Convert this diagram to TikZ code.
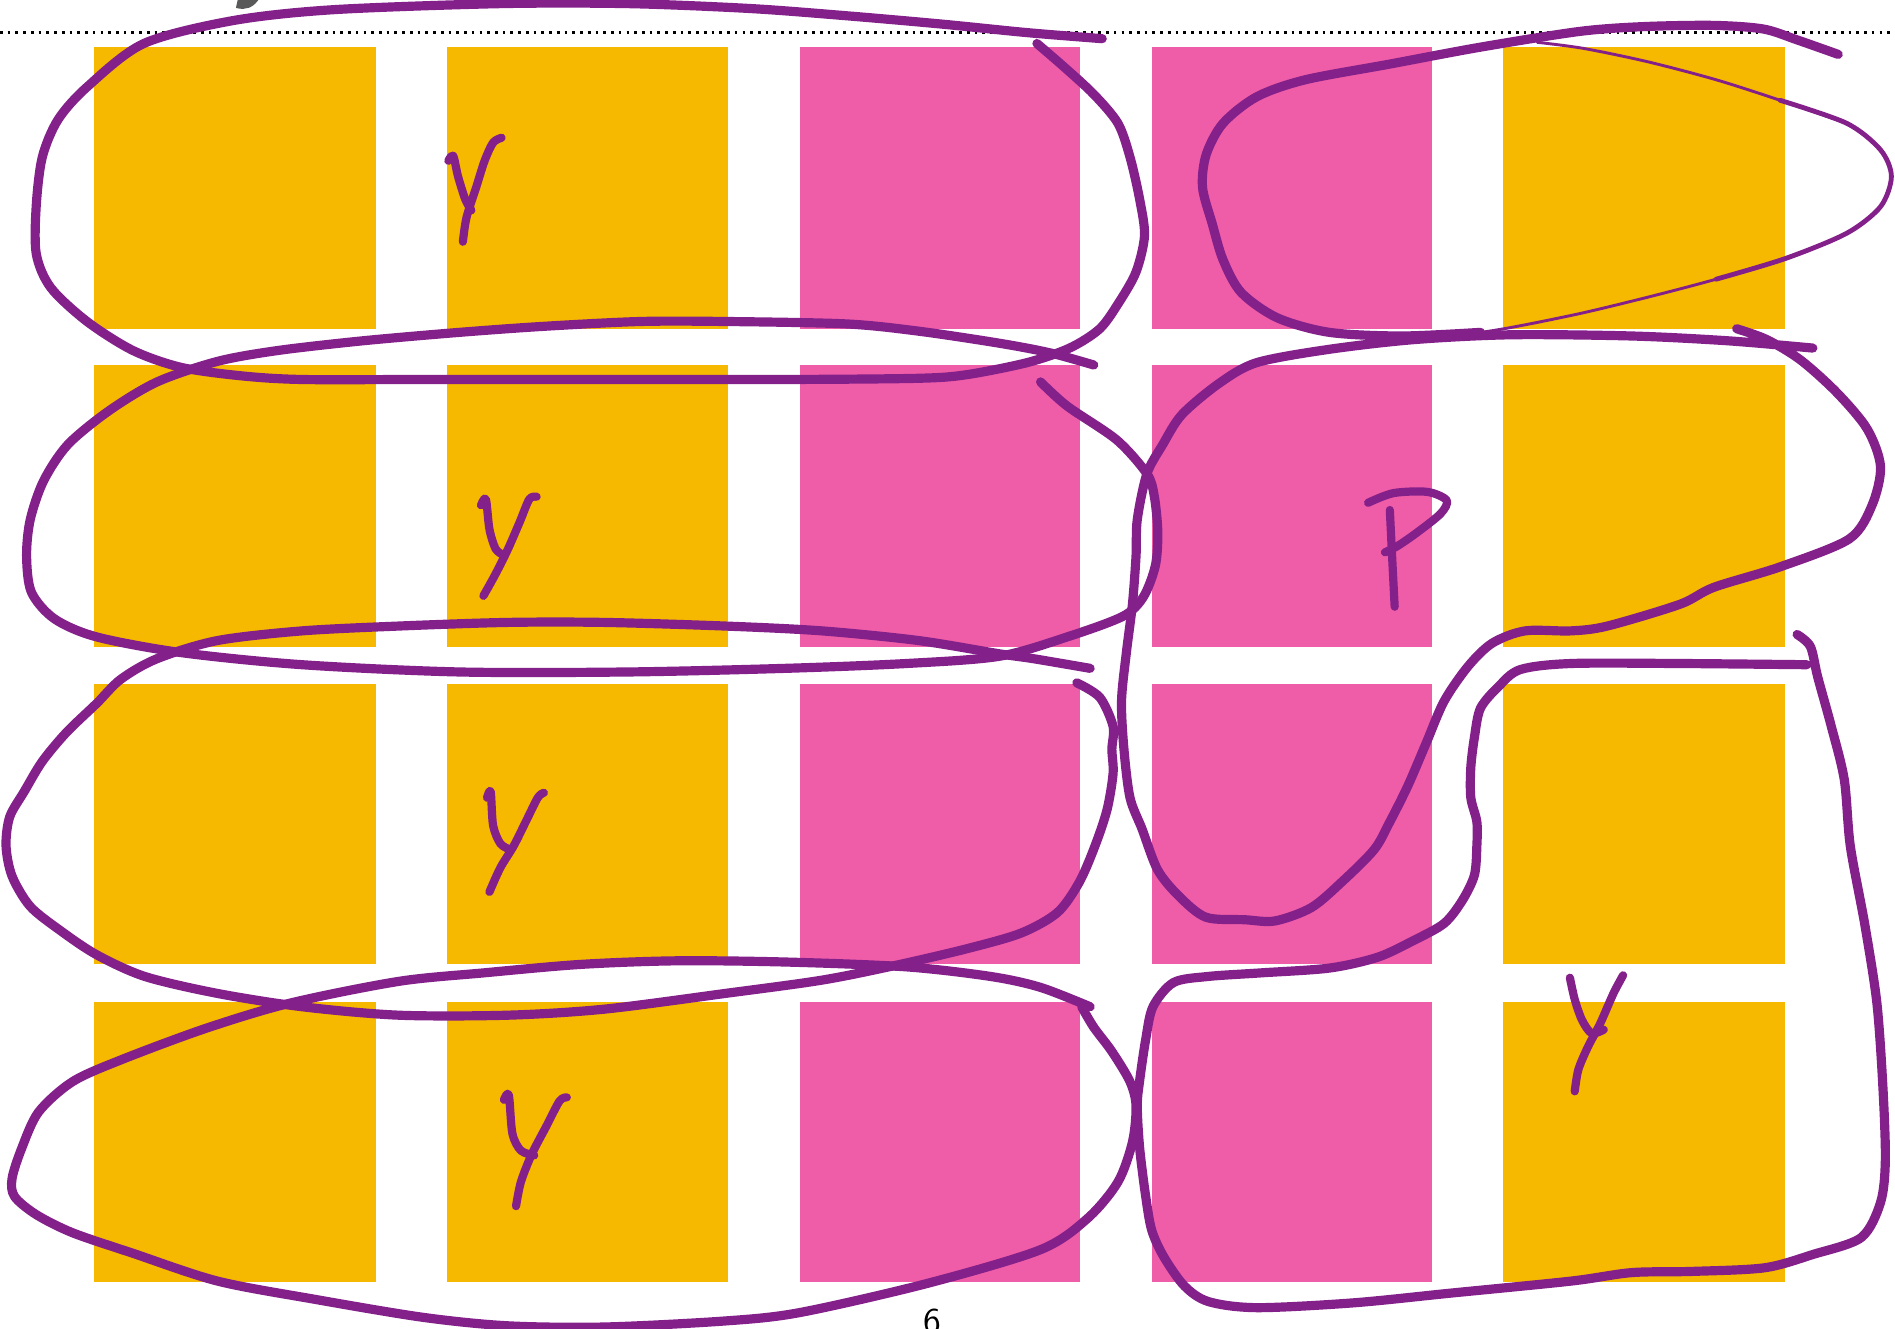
\documentclass[tikz,border=0pt]{standalone}
\usepackage{fontspec}
\begin{document}
\definecolor{cy}{HTML}{F6B900}
\definecolor{cp}{HTML}{EF5DA8}
\definecolor{cl}{HTML}{84208A}
\tikzset{
  ybox/.style={fill=cy},
  pbox/.style={fill=cp},
  lasso/.style={draw=cl, line width=3.8pt, line cap=round, line join=round},
  thinlasso/.style={draw=cl, line width=1.2pt, line cap=round, line join=round},
  midlasso/.style={draw=cl, line width=2pt, line cap=round, line join=round},
  letter/.style={draw=cl, line width=3.4pt, line cap=round, line join=round},
}
\begin{tikzpicture}[x=0.5pt,y=-0.5pt]
\useasboundingbox (0,0) rectangle (1568,1099);
% squares
\foreach \ya/\yb in {39/272,302/535,566/798,829/1061}{
  \fill[ybox] (78,\ya) rectangle (311,\yb);
  \fill[ybox] (370,\ya) rectangle (602,\yb);
  \fill[pbox] (662,\ya) rectangle (894,\yb);
  \fill[pbox] (953,\ya) rectangle (1185,\yb);
  \fill[ybox] (1244,\ya) rectangle (1477,\yb);
}
% dotted line
\draw[black, line width=1.1pt, dash pattern=on 1.1pt off 2.1pt] (0,27) -- (1568,27);
% partial grey glyph at top
\draw[draw=black!65, line width=3.6pt] (196,3) .. controls (203,5) and (208,3) .. (212,-4);
% page number
\node[anchor=base, inner sep=0pt, font=\sffamily\fontsize{15}{15}\selectfont] (pg) at (771.5,1103) {6};

% loop 1
\path[lasso] plot[smooth] coordinates {(858,36) (880,55) (905,78) (925,102) (935,130) (943,165) (947,195) (940,225) (926,250) (910,272) (885,288) (850,300) (800,310) (760,313) (650,314) (500,314) (350,314) (250,314) (200,311) (150,304) (110,290) (72,266) (42,238) (30,210) (30,170) (35,130) (48,99) (72,72) (119,36) (193,17) (276,8) (414,3) (520,3) (620,7) (700,13) (780,20) (850,27) (912,32)};
% loop 2
\path[lasso] plot[smooth] coordinates {(905,302) (869,292) (827,284) (760,274) (700,268) (600,266) (530,266) (450,270) (380,275) (300,282) (230,290) (180,299) (130,316) (90,340) (56,368) (36,398) (25,430) (22,460) (26,490) (45,512) (80,527) (150,540) (250,550) (380,556) (520,556) (650,553) (750,549) (827,543) (883,527) (929,510) (946,494) (956,468) (958,440) (955,410) (949,392) (924,364) (883,336) (861,316)};
% loop 3
\path[lasso] plot[smooth] coordinates {(902,553) (855,545) (827,541) (760,530) (680,522) (600,518) (500,515) (420,515) (330,518) (250,522) (180,530) (130,545) (100,562) (80,582) (55,606) (35,630) (20,655) (8,676) (5,700) (10,725) (25,750) (50,770) (80,790) (120,808) (180,822) (250,833) (330,840) (420,840) (500,835) (600,822) (680,811) (740,799) (800,785) (845,772) (875,755) (893,730) (906,700) (916,670) (921,640) (920,620) (921,601) (910,577) (891,565)};
% loop 4
\path[lasso] plot[smooth] coordinates {(902,833) (861,817) (820,808) (750,800) (650,796) (560,795) (480,798) (400,805) (330,812) (240,830) (170,851) (100,877) (60,895) (32,920) (18,950) (10,975) (12,990) (30,1005) (60,1020) (110,1037) (180,1060) (260,1075) (350,1090) (420,1097) (500,1098) (600,1093) (662,1086) (767,1062) (861,1034) (900,1008) (925,978) (937,945) (940,915) (935,895) (920,870) (905,850) (895,833)};
% loop 5 (variable width)
\path[lasso] plot[smooth] coordinates {(1521,45) (1487,33) (1459,24) (1418,21) (1360,22) (1307,26) (1225,39) (1150,53) (1080,66) (1040,80) (1012,102) (998,128) (995,155) (1003,185) (1012,215) (1027,242) (1057,263) (1100,275) (1160,278) (1225,275)};
\path[thinlasso] plot[smooth] coordinates {(1160,278) (1225,275) (1300,261) (1363,246) (1420,231) (1477,214)};
\path[midlasso] plot[smooth] coordinates {(1420,231) (1477,214) (1528,193) (1556,171) (1565,146) (1556,124) (1528,102) (1473,83)};
\path[thinlasso] plot[smooth] coordinates {(1528,102) (1473,83) (1420,66) (1363,51) (1310,40) (1272,35)};
% loop 6
\path[lasso] plot[smooth] coordinates {(1437,272) (1462,281) (1490,298) (1520,325) (1545,355) (1556,386) (1549,418) (1530,446) (1473,469) (1418,486) (1390,500) (1330,518) (1300,522) (1262,522) (1235,532) (1215,551) (1195,580) (1180,615) (1165,650) (1150,680) (1137,703) (1110,730) (1085,751) (1055,762) (1030,761) (998,759) (976,742) (958,720) (945,686) (935,660) (930,620) (928,580) (932,540) (937,500) (940,460) (941,430) (949,392) (962,368) (978,343) (1009,317) (1040,300) (1100,289) (1170,281) (1250,277) (1350,278) (1430,282) (1500,288)};
% loop 7
\path[lasso] plot[smooth] coordinates {(1487,525) (1498,535) (1504,560) (1515,600) (1526,645) (1531,700) (1543,765) (1553,830) (1558,900) (1560,960) (1556,995) (1540,1024) (1500,1038) (1460,1049) (1400,1052) (1350,1053) (1300,1060) (1200,1070) (1120,1078) (1040,1082) (1000,1077) (980,1064) (963,1040) (953,1018) (948,990) (943,950) (941,915) (943,894) (948,860) (954,833) (971,813) (999,808) (1043,805) (1100,801) (1140,792) (1170,778) (1195,764) (1210,745) (1220,724) (1222,700) (1222,680) (1217,660) (1217,635) (1220,610) (1225,586) (1240,568) (1258,554) (1300,549) (1390,549) (1495,550)};

% letters y
\path[letter] plot[smooth] coordinates {(371,133) (375,129) (379,146) (385,165) (390,174)};
\path[letter] plot[smooth] coordinates {(415,114) (408,118) (401,133) (394,155) (386,180) (383,200)};

\path[letter] plot[smooth] coordinates {(398,418) (402,413) (405,438) (410,454) (416,459)};
\path[letter] plot[smooth] coordinates {(444,411) (438,413) (430,432) (420,455) (410,475) (400,493)};

\path[letter] plot[smooth] coordinates {(403,660) (406,655) (408,683) (414,698) (422,703)};
\path[letter] plot[smooth] coordinates {(450,656) (445,660) (435,680) (425,700) (414,718) (405,738)};

\path[letter] plot[smooth] coordinates {(417,910) (421,906) (424,938) (431,952) (442,956)};
\path[letter] plot[smooth] coordinates {(469,908) (463,911) (452,932) (440,955) (431,978) (427,998)};

\path[letter] plot[smooth] coordinates {(1299,809) (1303,827) (1309,844) (1317,855) (1327,852)};
\path[letter] plot[smooth] coordinates {(1343,807) (1335,822) (1324,847) (1314,866) (1306,885) (1303,903)};

% letter P
\path[letter] plot[smooth] coordinates {(1150,422) (1152,463) (1154,502)};
\path[letter] plot[smooth] coordinates {(1132,416) (1153,408) (1181,407) (1197,414) (1192,425) (1172,441) (1156,452) (1146,457)};
\end{tikzpicture}
\end{document}
